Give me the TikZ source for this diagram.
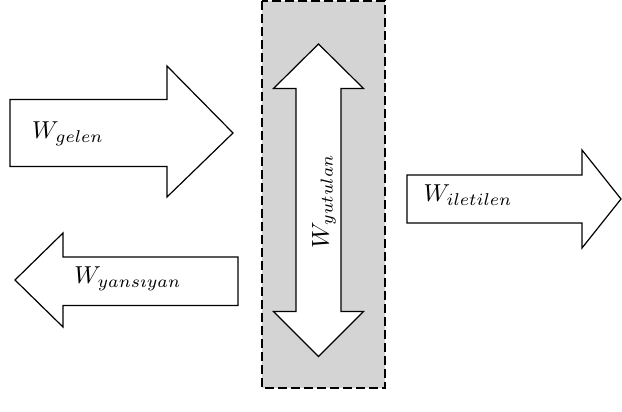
\documentclass[tikz,border=0pt]{standalone}
\begin{document}
\begin{tikzpicture}[x=1pt,y=-1pt,
  arrowshape/.style={draw=black, fill=white, line width=1.2pt, line join=miter},
  slab/.style={draw=black, fill=black!17, line width=1.2pt, dash pattern=on 9pt off 4pt},
  lbl/.style={inner sep=0pt, scale=2.45}]
\useasboundingbox (0,0) rectangle (622,412);

% absorbing slab
\draw[slab] (262,1) rectangle (385,388);

% incident wave
\draw[arrowshape] (10,99.5) -- (167,99.5) -- (167,66) -- (233,133) -- (167,197)
  -- (167,166.5) -- (10,166.5) -- cycle;
\node[lbl] (gelen) at (68,134) {$W_{gelen}$};

% reflected wave
\draw[arrowshape] (238,257) -- (63,257) -- (63,233) -- (15,280) -- (63,327)
  -- (63,305.5) -- (238,305.5) -- cycle;
\node[lbl] (yansiyan) at (128,279) {$W_{yans\imath yan}$};

% absorbed part
\draw[arrowshape] (318.5,44) -- (363.5,88.5) -- (341,88.5) -- (341,311.5)
  -- (363.5,311.5) -- (318.5,356.5) -- (273.5,311.5) -- (296,311.5)
  -- (296,88.5) -- (273.5,88.5) -- cycle;
\node[lbl, rotate=90] (yutulan) at (324,201) {$W_{yutulan}$};

% transmitted wave
\draw[arrowshape] (407,175) -- (582,175) -- (582,150) -- (621,199) -- (582,248)
  -- (582,223) -- (407,223) -- cycle;
\node[lbl] (iletilen) at (468,195) {$W_{iletilen}$};
\end{tikzpicture}
\end{document}
